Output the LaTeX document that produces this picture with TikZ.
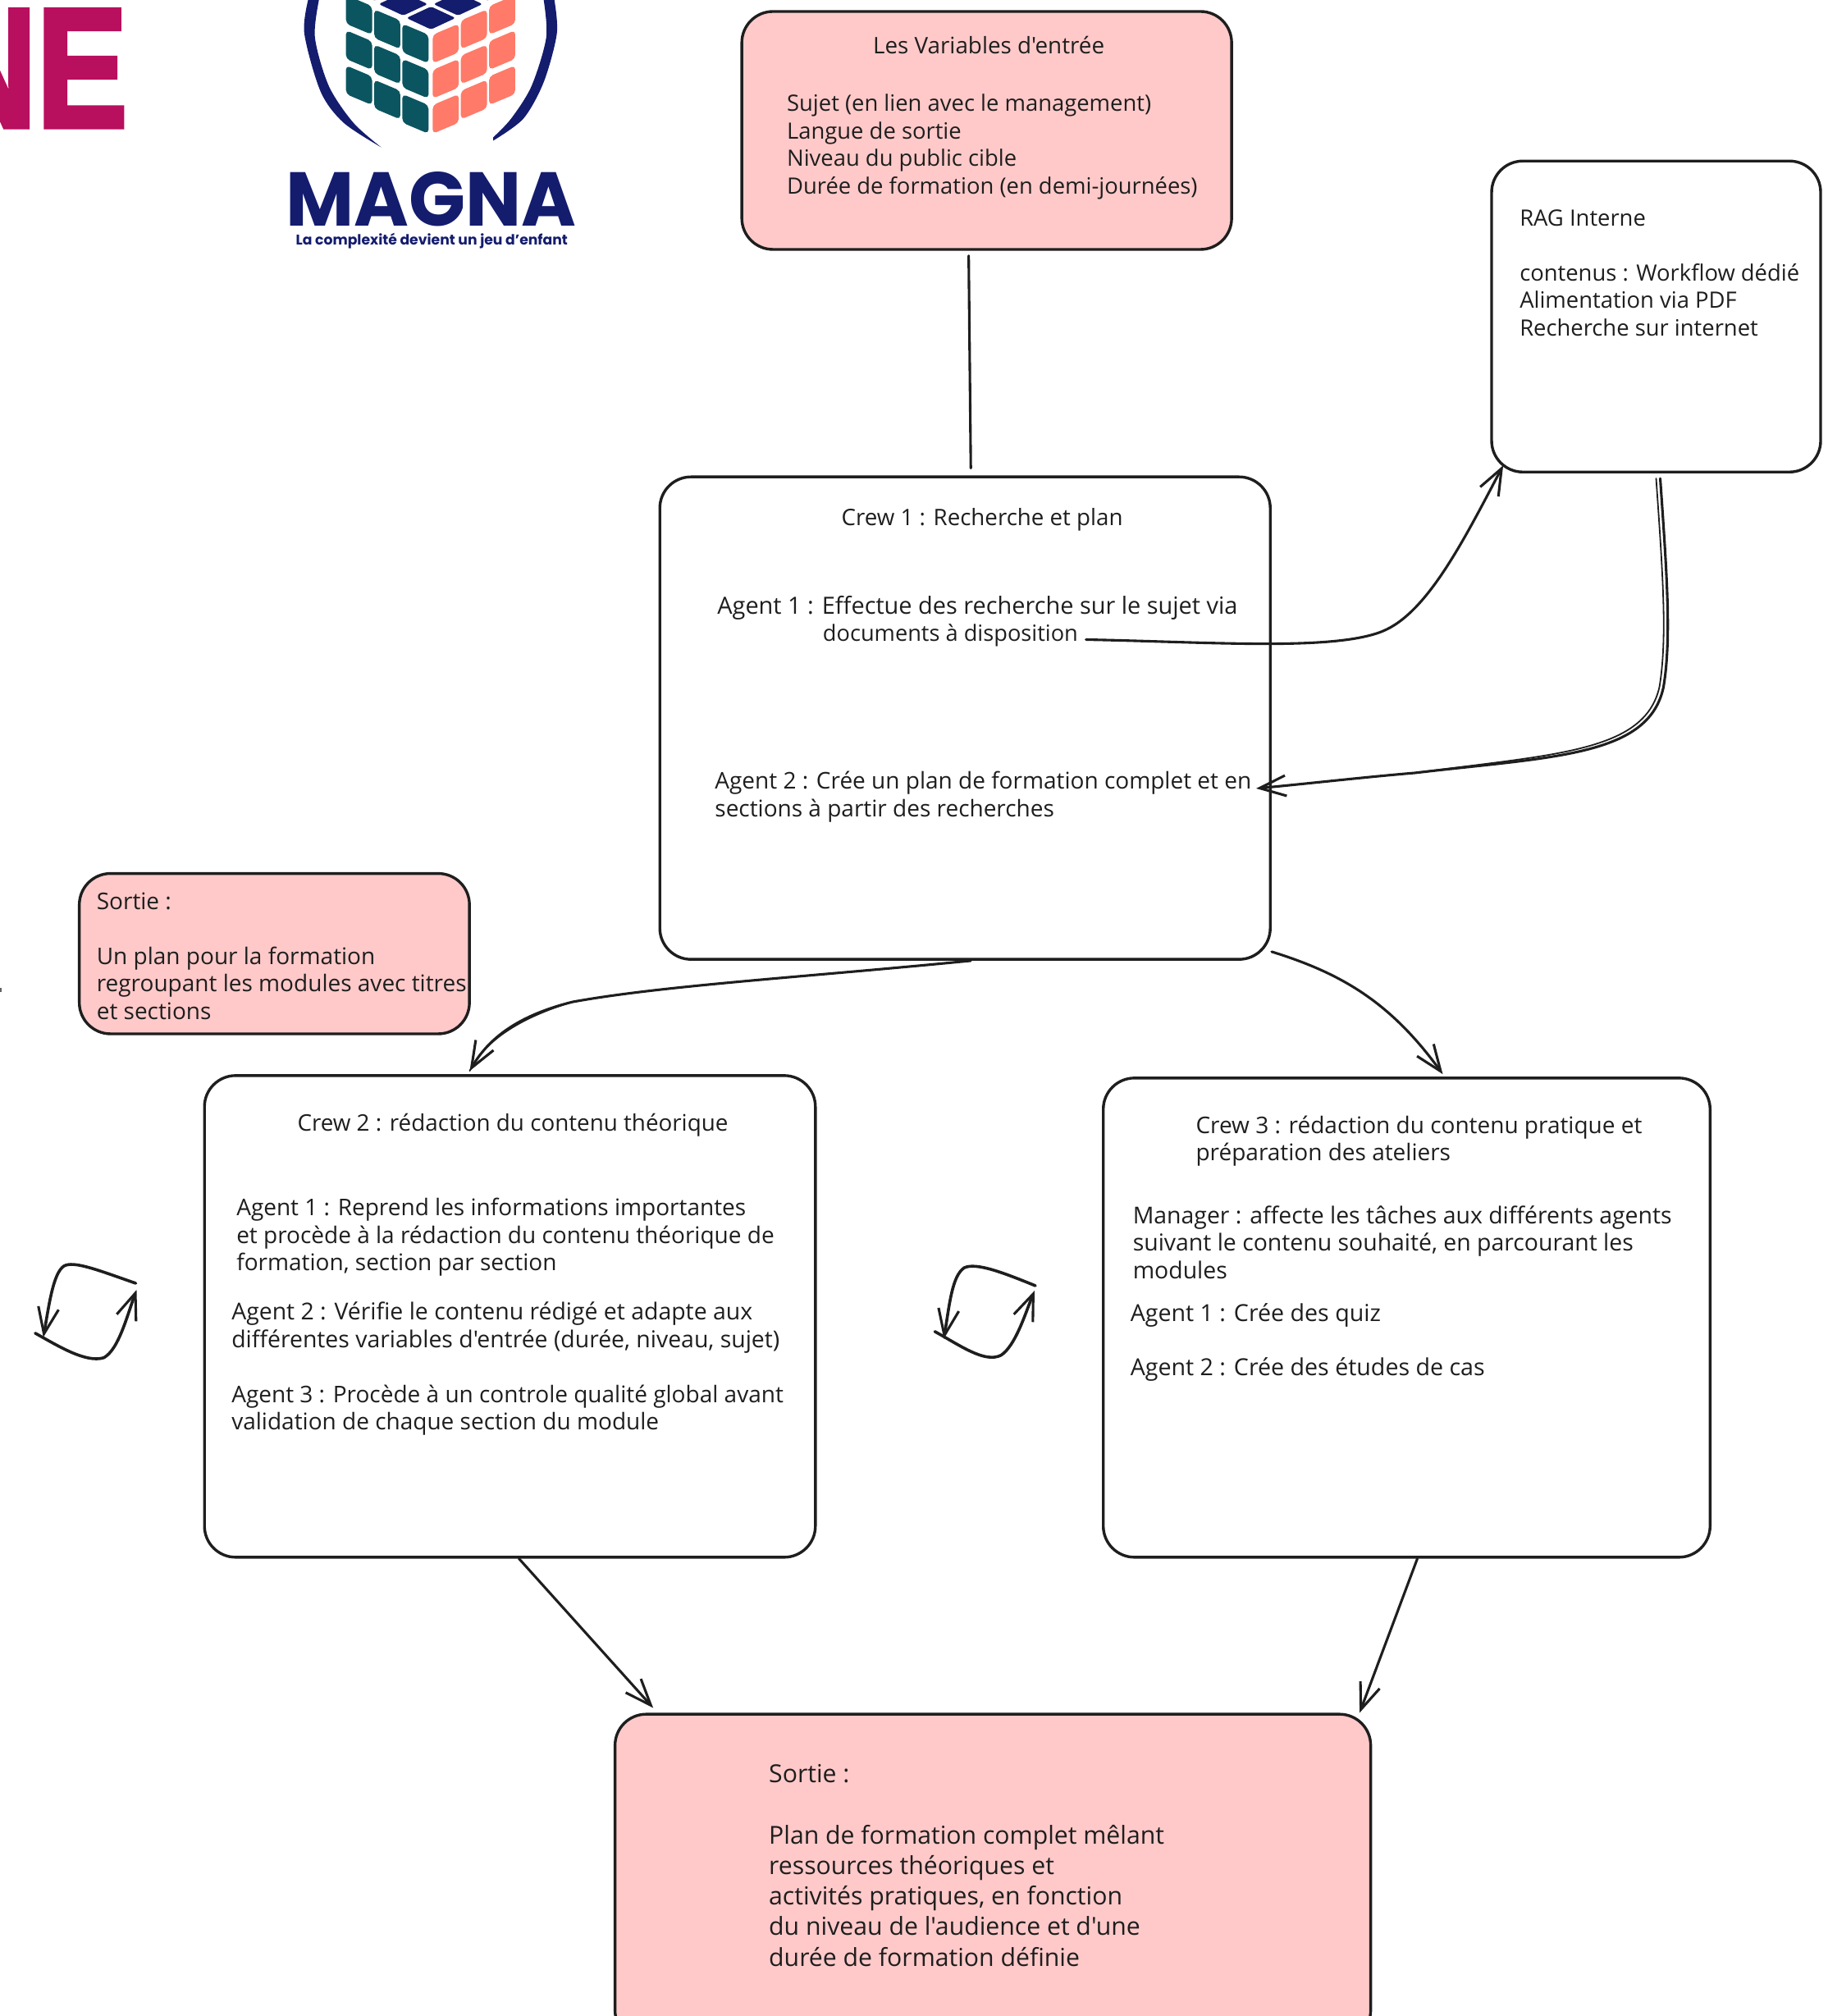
\documentclass[tikz,border=0pt]{standalone}
\usepackage{fontspec}
\usetikzlibrary{arrows.meta,calc}
\newfontfamily\handfont{Open Sans}
\newfontfamily\logofont{Poppins}
\newfontfamily\bigfont[BoldFeatures={FakeBold=3}]{Liberation Sans}
\definecolor{ink}{HTML}{1E1E1E}
\definecolor{pinkfill}{HTML}{FFC9C9}
\definecolor{navy}{HTML}{141C6E}
\definecolor{teal}{HTML}{0B5560}
\definecolor{coral}{HTML}{FF7A68}
\definecolor{magenta}{HTML}{B80F5F}
\tikzset{
  box/.style={draw=ink,line width=3.4pt,rounded corners=38pt,inner sep=0pt,fill=white},
  pinkbox/.style={box,fill=pinkfill},
  txt/.style={anchor=north west,inner sep=0pt,align=left,text=ink,font=\handfont\fontsize{#1}{33.5}\selectfont},
  bigtxt/.style={anchor=north west,inner sep=0pt,align=left,text=ink,font=\handfont\fontsize{30.2}{37.3}\selectfont},
  midtxt/.style={txt=#1,anchor=north,align=center},
  conn/.style={draw=ink,line width=3.1pt,line cap=round,line join=round},
  arr/.style={conn,-{Straight Barb[length=32pt,width=25pt,line width=3.1pt]}},
}
\begin{document}
\begin{tikzpicture}[x=0.9968pt,y=-0.9968pt]
\clip (0,0) rectangle (2235.15,2464.9);
\useasboundingbox (0,0) rectangle (2235.15,2464.9);
% brand text cropped by the page
\node[anchor=base east,inner sep=0pt,text=magenta] (brand) at (156,155) {\bigfont\bfseries\fontsize{207}{207}\selectfont\scalebox{0.8}[1]{NE}};
\fill[ink!70] (0,1208) rectangle (2,1213);
% cube: left and right faces
\foreach \c in {0,1,2} \foreach \r in {0,1,2} {
  \pgfmathsetmacro\xa{423+34.5*\c}
  \pgfmathsetmacro\xb{\xa+32}
  \pgfmathsetmacro\ya{-6+17.5*\c+43*\r}
  \fill[teal,rounded corners=5pt] (\xa,\ya) -- (\xb,\ya+13.5) -- (\xb,\ya+48.5) -- (\xa,\ya+35) -- cycle;
  \fill[coral,rounded corners=5pt] (1053-\xa,\ya) -- (1053-\xb,\ya+13.5) -- (1053-\xb,\ya+48.5) -- (1053-\xa,\ya+35) -- cycle;
}
\foreach \cx/\cy in {527/22,493/5,560/5,527/-14,458/-13,596/-13}
  \fill[navy,rounded corners=3pt] (\cx-30,\cy) -- (\cx,\cy-14) -- (\cx+30,\cy) -- (\cx,\cy+14) -- cycle;
% arcs round the cube
\fill[navy] plot[smooth] coordinates {(378,-5) (372,40) (392,112) (420,150) (466,180)} -- plot[smooth] coordinates {(466,180) (432,150) (402,105) (385,45) (391,-5)} -- cycle;
\fill[navy] plot[smooth] coordinates {(677,-5) (681,40) (665,100) (640,145) (603,172)} -- plot[smooth] coordinates {(603,168) (625,145) (650,105) (668,45) (664,-5)} -- cycle;
\node[anchor=base,inner sep=0pt,text=navy] (magna) at (527,276) {\logofont\bfseries\fontsize{93}{93}\selectfont\scalebox{0.975}[1]{MAGNA}};
\node[anchor=base,inner sep=0pt,text=navy] (tag) at (528,299) {\logofont\bfseries\fontsize{17.2}{20}\selectfont La complexité devient un jeu d’enfant};
% boxes
\node[pinkbox,minimum width=597pt,minimum height=290pt] (vars) at (1206.5,159.5) {};
\node[box,minimum width=401pt,minimum height=379pt] (rag) at (2025,387) {};
\node[box,minimum width=744pt,minimum height=588pt] (crew1) at (1180,878) {};
\node[pinkbox,minimum width=475.5pt,minimum height=195.4pt] (out1) at (335.5,1166) {};
\node[box,minimum width=744.6pt,minimum height=587pt] (crew2) at (623.5,1609.5) {};
\node[box,minimum width=739.6pt,minimum height=584pt] (crew3) at (1720,1611) {};
\node[pinkbox,minimum width=921pt,minimum height=399pt] (out2) at (1214,2296) {};
% texts
\node[midtxt=27.8] (varstitle) at (1209,44) {Les Variables d'entrée};
\node[txt=27.4] (varsbody) at (962,115) {Sujet (en lien avec le management)\\Langue de sortie\\Niveau du public cible\\Durée de formation (en demi-journées)};
\node[txt=27.4] (ragbody) at (1858,256) {RAG Interne\\[33.5pt]contenus : Workflow dédié\\Alimentation via PDF\\Recherche sur internet};
\node[midtxt=27.7] (c1title) at (1201,621) {Crew 1 : Recherche et plan};
\node[txt=28.9] (c1a1) at (877,729) {Agent 1 : Effectue des recherche sur le sujet via};
\node[txt=27.2] (c1a1b) at (1006,763) {documents à disposition};
\node[txt=28] (c1a2) at (874,943) {Agent 2 : Crée un plan de formation complet et en\\sections à partir des recherches};
\node[txt=28] (o1body) at (118,1091) {Sortie :\\[33.5pt]Un plan pour la formation\\regroupant les modules avec titres\\et sections};
\node[midtxt=27.8] (c2title) at (627,1361) {Crew 2 : rédaction du contenu théorique};
\node[txt=28] (c2a1) at (289,1465) {Agent 1 : Reprend les informations importantes\\et procède à la rédaction du contenu théorique de\\formation, section par section};
\node[txt=28.4] (c2a2) at (283,1592) {Agent 2 : Vérifie le contenu rédigé et adapte aux\\différentes variables d'entrée (durée, niveau, sujet)};
\node[txt=28] (c2a3) at (283,1693) {Agent 3 : Procède à un controle qualité global avant\\validation de chaque section du module};
\node[txt=28] (c3title) at (1462,1364) {Crew 3 : rédaction du contenu pratique et\\préparation des ateliers};
\node[txt=28.4] (c3m) at (1385,1474) {Manager : affecte les tâches aux différents agents\\suivant le contenu souhaité, en parcourant les\\modules};
\node[txt=28.6] (c3a1) at (1382,1593) {Agent 1 : Crée des quiz};
\node[txt=28.6] (c3a2) at (1382,1660) {Agent 2 : Crée des études de cas};
\node[bigtxt] (o2body) at (940,2157) {Sortie :\\[37.3pt]Plan de formation complet mêlant\\ressources théoriques et\\activités pratiques, en fonction\\du niveau de l'audience et d'une\\durée de formation définie};
% free ends
\coordinate (a1end) at (1328,782);
\coordinate (ragin) at (1838,569);
\coordinate (ragout) at (2030,585);
\coordinate (a2in) at (1536,964);
\coordinate (la1) at (166,1569); \coordinate (la2) at (53,1635);
\coordinate (lb1) at (43,1630);  \coordinate (lb2) at (167,1577);
\coordinate (ma1) at (1266,1572); \coordinate (ma2) at (1154,1637);
\coordinate (mb1) at (1143,1628); \coordinate (mb2) at (1265,1578);
% connectors
\draw[conn] ([xshift=-22pt,yshift=-6pt]vars.south) -- ([xshift=7pt,yshift=9pt]crew1.north);
\draw[arr] (a1end) .. controls (1480,785) and (1630,796) .. (1690,772) .. controls (1745,750) and (1790,660) .. (ragin);
\draw[arr] (ragout) .. controls (2038,700) and (2044,780) .. (2034,840) .. controls (2016,925) and (1900,925) .. (1730,945) .. controls (1670,950) and (1600,958) .. (a2in);
\draw[conn,line width=1.8pt] ([xshift=-5pt]ragout) .. controls (2033,700) and (2039,780) .. (2029,840) .. controls (2011,920) and (1900,922) .. (1730,945);
\draw[arr] ([xshift=7pt]crew1.south) .. controls (980,1195) and (810,1205) .. (700,1225) .. controls (640,1240) and (600,1265) .. ([xshift=-49pt,yshift=4pt]crew2.north);
\draw[conn,line width=1.8pt] (700,1225) .. controls (640,1243) and (594,1270) .. ([xshift=-49pt,yshift=4pt]crew2.north);
\draw[arr] ([yshift=11pt]crew1.south east) .. controls (1640,1190) and (1700,1225) .. ([xshift=44pt,yshift=3pt]crew3.north);
\draw[arr] ([xshift=11pt]crew2.south) -- ([xshift=-414pt,yshift=6pt]out2.north);
\draw[arr] ([xshift=13pt]crew3.south) -- ([xshift=447pt,yshift=0pt]out2.north);
\draw[arr,line width=3.6pt] (la1) .. controls (120,1553) and (90,1541) .. (78,1548) .. controls (65,1557) and (60,1595) .. (la2);
\draw[arr,line width=3.6pt] (lb1) .. controls (70,1645) and (105,1667) .. (127,1660) .. controls (145,1650) and (155,1610) .. (lb2);
\draw[arr,line width=3.6pt] (ma1) .. controls (1229,1557) and (1194,1543) .. (1179,1550) .. controls (1164,1560) and (1161,1595) .. (ma2);
\draw[arr,line width=3.6pt] (mb1) .. controls (1174,1645) and (1204,1667) .. (1224,1657) .. controls (1242,1645) and (1254,1605) .. (mb2);
\end{tikzpicture}
\end{document}
